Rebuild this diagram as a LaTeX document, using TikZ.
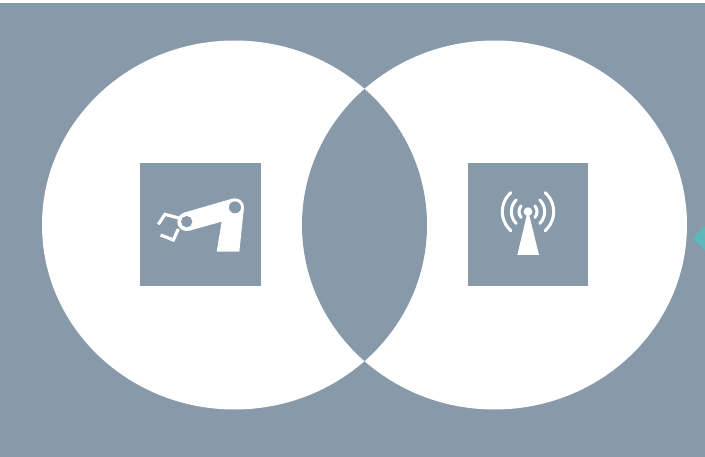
\documentclass[tikz,border=0pt]{standalone}
\usepackage{tikz}
\usetikzlibrary{shapes.geometric}
\definecolor{slate}{RGB}{136,154,169}
\definecolor{teal}{RGB}{94,184,186}

\begin{document}
\begin{tikzpicture}[
  x=1pt, y=-1pt,
  disc/.style={draw=none, fill=white, ellipse, inner sep=0pt, minimum width=385pt, minimum height=369pt},
  iconbox/.style={draw=none, fill=slate, rectangle, inner sep=0pt, minimum height=123pt},
  hole/.style={fill=slate},
  stroke/.style={draw=white, line width=3.2pt},
  wave/.style={draw=white, line width=3pt, line cap=round}]
\useasboundingbox (0,0) rectangle (705,457);
\fill[white] (0,0) rectangle (705,457);
\fill[slate] (0,3) rectangle (705,457);
% marker at the right edge
\begin{scope}
\clip (0,0) rectangle (705,457);
\fill[teal] (692.5,238) -- (706,224.5) -- (719.5,238) -- (706,251.5) -- cycle;
\end{scope}
% two discs
\node[disc] (discL) at (234.5,225) {};
\node[disc] (discR) at (494.5,225) {};
% overlap
\begin{scope}
\clip (234.5,225) ellipse [x radius=192.5, y radius=184.5];
\fill[slate] (494.5,225) ellipse [x radius=192.5, y radius=184.5];
\end{scope}
\node[iconbox, minimum width=121pt] (boxL) at (200.5,224.5) {};
\node[iconbox, minimum width=120pt] (boxR) at (528,224.5) {};
% robot arm
\begin{scope}[shift={(130,155)}, scale=1/3]
\fill[white] (162,173) -- (307,131) -- (342,157) -- (328,290) -- (260,290)
  -- (275,200) -- (178,227) -- cycle;
\fill[white] (170,200) circle [radius=28];
\fill[white] (315,157) circle [radius=27];
\fill[hole] (170,200) circle [radius=17];
\fill[hole] (315,157) circle [radius=18];
\draw[stroke] (150,190) -- (105,178) -- (85,208);
\draw[stroke] (145,222) -- (130,255) -- (92,240);
\end{scope}
% antenna
\begin{scope}[shift={(460,155)}, scale=1/3]
\fill[white] (204,165) -- (237,300) -- (172,300) -- cycle;
\fill[white] (204,170) circle [radius=13];
\foreach \r/\a in {27/40, 50/45, 77/48} {
  \draw[wave] ({204+\r*cos(\a)},{170-\r*sin(\a)}) arc [start angle=-\a, end angle=\a, radius=\r];
  \draw[wave] ({204-\r*cos(\a)},{170-\r*sin(\a)}) arc [start angle=180+\a, end angle=180-\a, radius=\r];
}
\end{scope}
\end{tikzpicture}
\end{document}
